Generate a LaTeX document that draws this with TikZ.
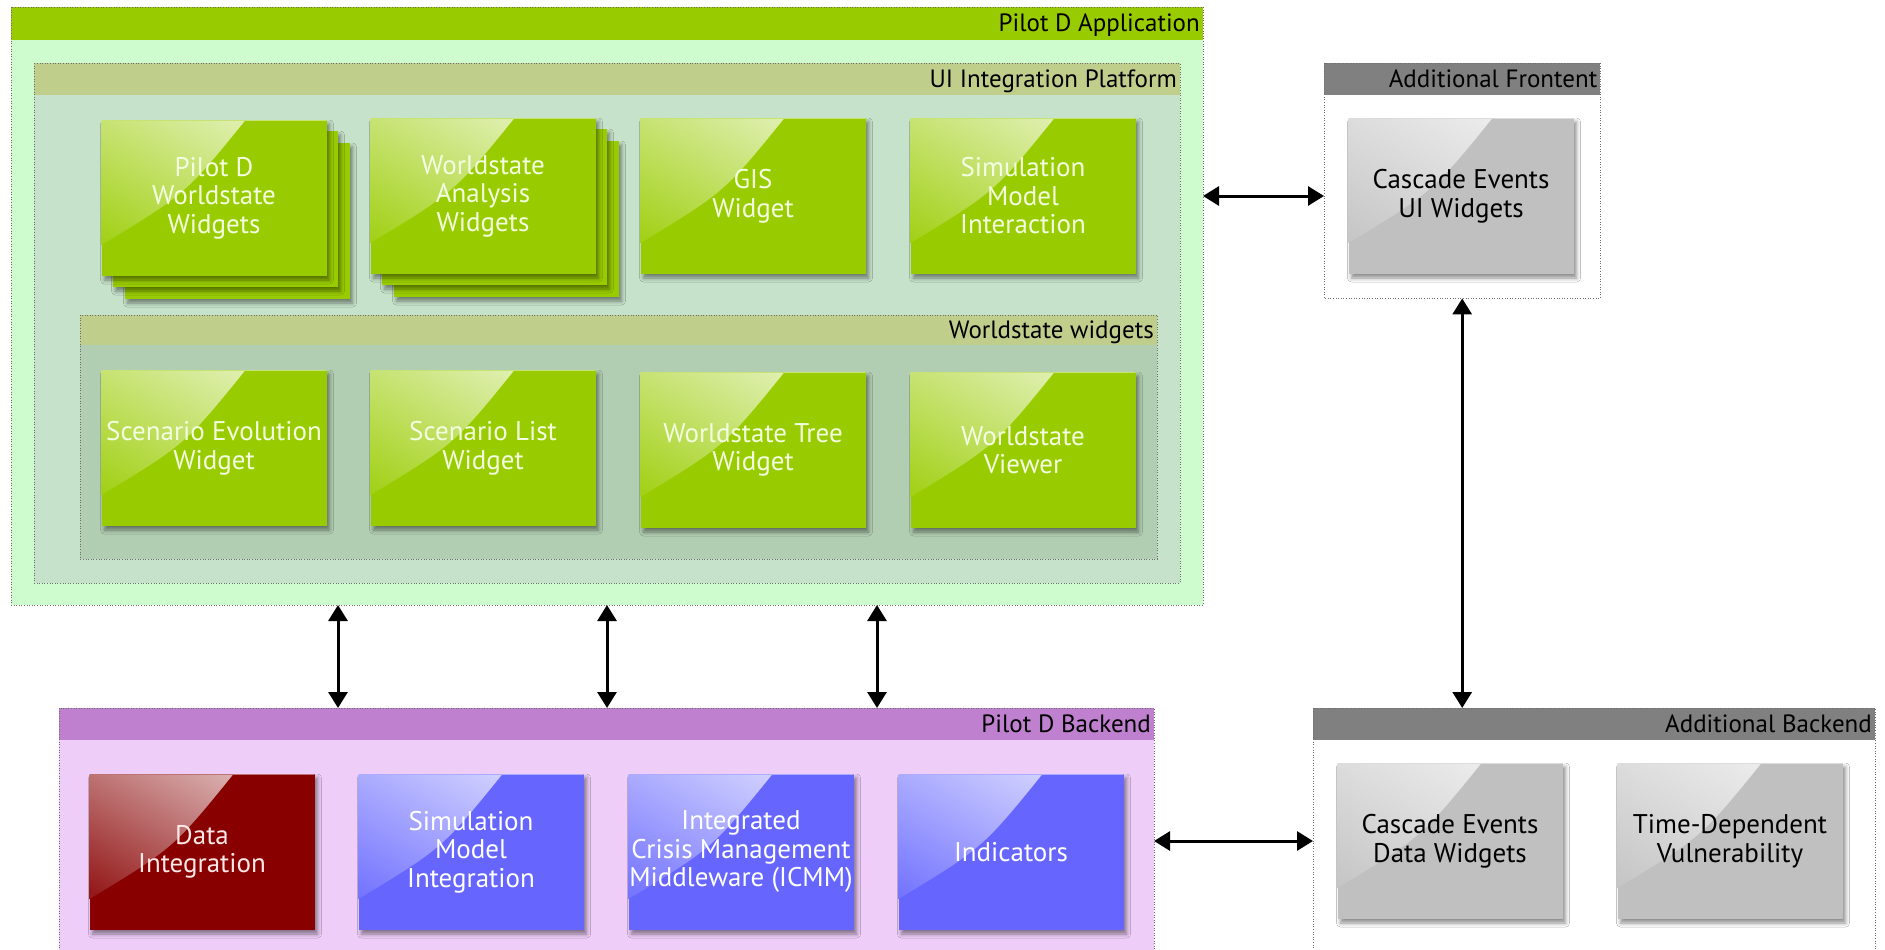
\documentclass[tikz,border=0pt]{standalone}
\usepackage{fontspec}
\setmainfont{PT Sans}
\usetikzlibrary{arrows.meta,shadows.blur,calc}

\definecolor{appHead}{RGB}{153,204,0}
\definecolor{appBody}{RGB}{206,252,206}
\definecolor{uiHead}{RGB}{192,206,140}
\definecolor{uiBody}{RGB}{198,226,202}
\definecolor{wsHead}{RGB}{192,206,140}
\definecolor{wsBody}{RGB}{178,206,178}
\definecolor{beHead}{RGB}{192,128,208}
\definecolor{beBody}{RGB}{238,206,248}
\definecolor{greyHead}{RGB}{128,128,128}
\definecolor{leafGreen}{RGB}{153,204,0}
\definecolor{leafGrey}{RGB}{192,192,192}
\definecolor{leafBlue}{RGB}{102,102,255}
\definecolor{leafRed}{RGB}{136,0,0}
\definecolor{borderGrey}{RGB}{110,110,110}
\definecolor{paleText}{RGB}{244,255,226}
\definecolor{pinkText}{RGB}{255,232,232}

% glossy highlight in the upper-left corner of a component box
\newcommand\glossfill[1]{%
  \shade[left color=white!72!#1, middle color=white!26!#1, right color=white!10!#1, shading angle=-30]
    (path picture bounding box.north west)
    -- ([xshift=144pt]path picture bounding box.north west)
    .. controls ([xshift=84pt,yshift=-74pt]path picture bounding box.north west) ..
    ([yshift=-125pt]path picture bounding box.north west) -- cycle;
  \draw[white!45!#1, line width=1pt]
    ([yshift=-0.5pt]path picture bounding box.north west) -- ([yshift=-0.5pt]path picture bounding box.north east);
}

% titled container: name, x0, y0, x1, y1, header height, header colour, body colour, title
\newcommand\groupbox[9]{%
  \node[inner sep=0pt, outer sep=0pt, anchor=north west,
        minimum width=#4pt-#2pt, minimum height=#5pt-#3pt, fill=#8] (#1) at (#2,#3) {};
  \fill[#7] (#1.north west) rectangle ([yshift=-#6pt]#1.north east);
  \node[grouplabel] (#1-title) at ([xshift=-3pt, yshift=-#6pt/2-8.5pt]#1.north east) {#9};
  \draw[groupborder] (#1.north west) rectangle (#1.south east);
}

\tikzset{
  grouplabel/.style={anchor=base east, inner sep=0pt, font=\fontsize{25}{28}\selectfont, text=black},
  groupborder/.style={draw=borderGrey, line width=0.9pt, dash pattern=on 1pt off 1.6pt},
  leafbase/.style={minimum width=225pt, minimum height=156pt, inner sep=0pt, align=center,
        fill=#1, font=\fontsize{27}{28.5}\selectfont,
        blur shadow={shadow xshift=3pt, shadow yshift=-4pt, shadow blur radius=4pt, shadow opacity=45}},
  leaf/.style={leafbase=#1, path picture={\glossfill{#1}}},
  greenleaf/.style={leaf=leafGreen, text=paleText},
  blueleaf/.style={leaf=leafBlue, text=white},
  redleaf/.style={leaf=leafRed, text=pinkText},
  greyleaf/.style={leaf=leafGrey, text=black},
  stackcopy/.style={leafbase=leafGreen},
  biarrow/.style={{Triangle[length=16pt,width=19pt]}-{Triangle[length=16pt,width=19pt]}, line width=3pt, black},
}

\begin{document}
\begin{tikzpicture}[x=1pt, y=-1pt]
\useasboundingbox (0,0) rectangle (1885,950);
\fill[white] (0,0) rectangle (1885,950);

% ---------- Pilot D Application ----------
\groupbox{app}{11}{7}{1203}{605}{33}{appHead}{appBody}{Pilot D Application}
\groupbox{ui}{34}{63}{1180}{583}{32}{uiHead}{uiBody}{UI Integration Platform}

% stacked widget collections
\node[stackcopy] (pwsB) at (237,221) {};
\node[stackcopy] (pwsA) at (225,209) {};
\node[greenleaf] (pws) at (214,198) {Pilot D\\Worldstate\\Widgets};

\node[stackcopy] (wsaB) at (506,219) {};
\node[stackcopy] (wsaA) at (494,207) {};
\node[greenleaf] (wsa) at (483,196) {Worldstate\\Analysis\\Widgets};

\node[greenleaf] (gis) at (753,196) {GIS\\Widget};
\node[greenleaf] (smi) at (1023,196) {Simulation\\Model\\Interaction};

\groupbox{ws}{80}{315}{1157}{559}{30}{wsHead}{wsBody}{Worldstate widgets}
\node[greenleaf] (sev) at (214,448) {Scenario Evolution\\Widget};
\node[greenleaf] (slw) at (483,448) {Scenario List\\Widget};
\node[greenleaf] (wtw) at (753,450) {Worldstate Tree\\Widget};
\node[greenleaf] (wsv) at (1023,450) {Worldstate\\Viewer};

% ---------- Additional Frontent ----------
\node[inner sep=0pt, anchor=north west, minimum width=276pt, minimum height=235pt, fill=white] (addfront) at (1324,63) {};
\fill[greyHead] (addfront.north west) rectangle ([yshift=-32pt]addfront.north east);
\node[grouplabel] (addfront-title) at ([xshift=-3pt, yshift=-24.5pt]addfront.north east) {Additional Frontent};
\draw[groupborder] (addfront.north west) rectangle (addfront.south east);
\node[greyleaf] (ceui) at (1461,196) {Cascade Events\\UI Widgets};

% ---------- Pilot D Backend ----------
\groupbox{backend}{59}{708}{1154}{952}{32}{beHead}{beBody}{Pilot D Backend}
\node[redleaf] (di) at (202,852) {Data\\Integration};
\node[blueleaf] (smint) at (471,852) {Simulation\\Model\\Integration};
\node[blueleaf] (icmm) at (741,852) {Integrated\\Crisis Management\\Middleware (ICMM)};
\node[blueleaf] (ind) at (1011,852) {Indicators};

% ---------- Additional Backend ----------
\groupbox{addback}{1313}{708}{1875}{952}{32}{greyHead}{white}{Additional Backend}
\node[greyleaf] (cedw) at (1450,841) {Cascade Events\\Data Widgets};
\node[greyleaf] (tdv) at (1730,841) {Time-Dependent\\Vulnerability};

% ---------- connectors ----------
\coordinate (lane1) at (338,0);
\coordinate (lane2) at (607,0);
\coordinate (lane3) at (877,0);
\draw[biarrow] (app.south -| lane1) -- (backend.north -| lane1);
\draw[biarrow] (app.south -| lane2) -- (backend.north -| lane2);
\draw[biarrow] (app.south -| lane3) -- (backend.north -| lane3);
\draw[biarrow] (app.east |- ceui) -- (addfront.west |- ceui);
\draw[biarrow] (addfront.south) -- (addback.north -| addfront.south);
\draw[biarrow] (backend.east |- cedw) -- (addback.west |- cedw);
\end{tikzpicture}
\end{document}
